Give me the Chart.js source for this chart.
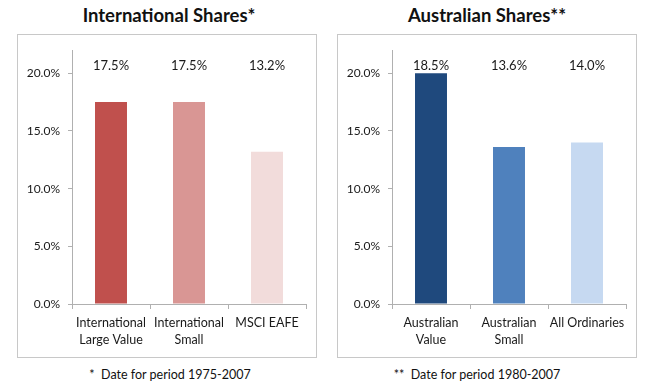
<!DOCTYPE html>
<html>
<head>
<meta charset="utf-8">
<script src="https://cdn.jsdelivr.net/npm/chart.js@4"></script>
<style>
  body { margin: 0; background: #fff; width: 650px; height: 389px; position: relative; overflow: hidden; font-family: Lato, "Open Sans", sans-serif; }
  .title { position: absolute; top: 4px; width: 300px; text-align: center; font-weight: bold; font-size: 18.5px; color: #111; }
  .frame { position: absolute; top: 34px; width: 298px; height: 322px; border: 1px solid #c8c8c8; }
  .frame canvas { display: block; }
  .note { position: absolute; top: 367px; width: 300px; text-align: center; font-size: 12.5px; color: #111; }
</style>
</head>
<body>
<div class="title" style="left:19px">International Shares*</div>
<div class="title" style="left:337px">Australian Shares**</div>
<div class="frame" style="left:17px"><canvas id="intl" width="298" height="322"></canvas></div>
<div class="frame" style="left:337px"><canvas id="aus" width="298" height="322"></canvas></div>
<div class="note" style="left:20px">*&nbsp; Date for period 1975-2007</div>
<div class="note" style="left:327px">**&nbsp; Date for period 1980-2007</div>
<script>
// International shares
const intlCategories = [['International', 'Large Value'], ['International', 'Small'], 'MSCI EAFE'];
const intlValues = [17.5, 17.5, 13.2];
const intlLabels = ['17.5%', '17.5%', '13.2%'];
const intlColors = ['#c0504d', '#d99694', '#f2dcdb'];

// Australian shares (first bar is drawn at 20% in the original even though labelled 18.5%)
const ausCategories = [['Australian', 'Value'], ['Australian', 'Small'], 'All Ordinaries'];
const ausValues = [20.0, 13.6, 14.0];
const ausLabels = ['18.5%', '13.6%', '14.0%'];
const ausColors = ['#1f497d', '#4f81bd', '#c6d9f1'];

const yTicks = [0, 5, 10, 15, 20];
const yMax = 22;

Chart.defaults.font.family = 'Lato, "Open Sans", sans-serif';
Chart.defaults.color = '#1a1a1a';

// writes the value labels in a row near the top of the plot
const topLabels = {
    id: 'topLabels',
    afterDatasetsDraw(chart, args, opts) {
        const ctx = chart.ctx;
        const meta = chart.getDatasetMeta(0);
        ctx.save();
        ctx.font = '13px Lato, "Open Sans", sans-serif';
        ctx.fillStyle = '#1a1a1a';
        ctx.textAlign = 'center';
        ctx.textBaseline = 'middle';
        meta.data.forEach((bar, i) => {
            ctx.fillText(opts.labels[i], bar.x, chart.chartArea.top + 16);
        });
        ctx.restore();
    }
};

function makeChart(id, categories, values, labels, colors) {
    return new Chart(document.getElementById(id), {
        type: 'bar',
        data: {
            labels: categories,
            datasets: [{
                data: values,
                backgroundColor: colors,
                barPercentage: 0.41,
                categoryPercentage: 1
            }]
        },
        options: {
            responsive: false,
            animation: false,
            layout: { padding: { top: 12, right: 10, left: 0, bottom: 0 } },
            plugins: {
                legend: { display: false },
                tooltip: { enabled: false },
                topLabels: { labels: labels }
            },
            scales: {
                x: {
                    grid: { display: true, drawOnChartArea: false, offset: true, color: '#b0b0b0', tickLength: 5 },
                    border: { color: '#b0b0b0' },
                    ticks: { font: { size: 12.5, lineHeight: 1.35 }, padding: 6, maxRotation: 0, autoSkip: false },
                    afterFit(scale) { scale.height = 53; }
                },
                y: {
                    min: 0,
                    max: yMax,
                    grid: { display: true, drawOnChartArea: false, color: '#b0b0b0', tickLength: 4 },
                    border: { color: '#b0b0b0' },
                    afterBuildTicks(scale) { scale.ticks = yTicks.map(v => ({ value: v })); },
                    ticks: {
                        font: { size: 12 },
                        padding: 8,
                        callback: v => v.toFixed(1) + '%'
                    },
                    afterFit(scale) { scale.width = 54; }
                }
            }
        },
        plugins: [topLabels]
    });
}

makeChart('intl', intlCategories, intlValues, intlLabels, intlColors);
makeChart('aus', ausCategories, ausValues, ausLabels, ausColors);
</script>
</body>
</html>
